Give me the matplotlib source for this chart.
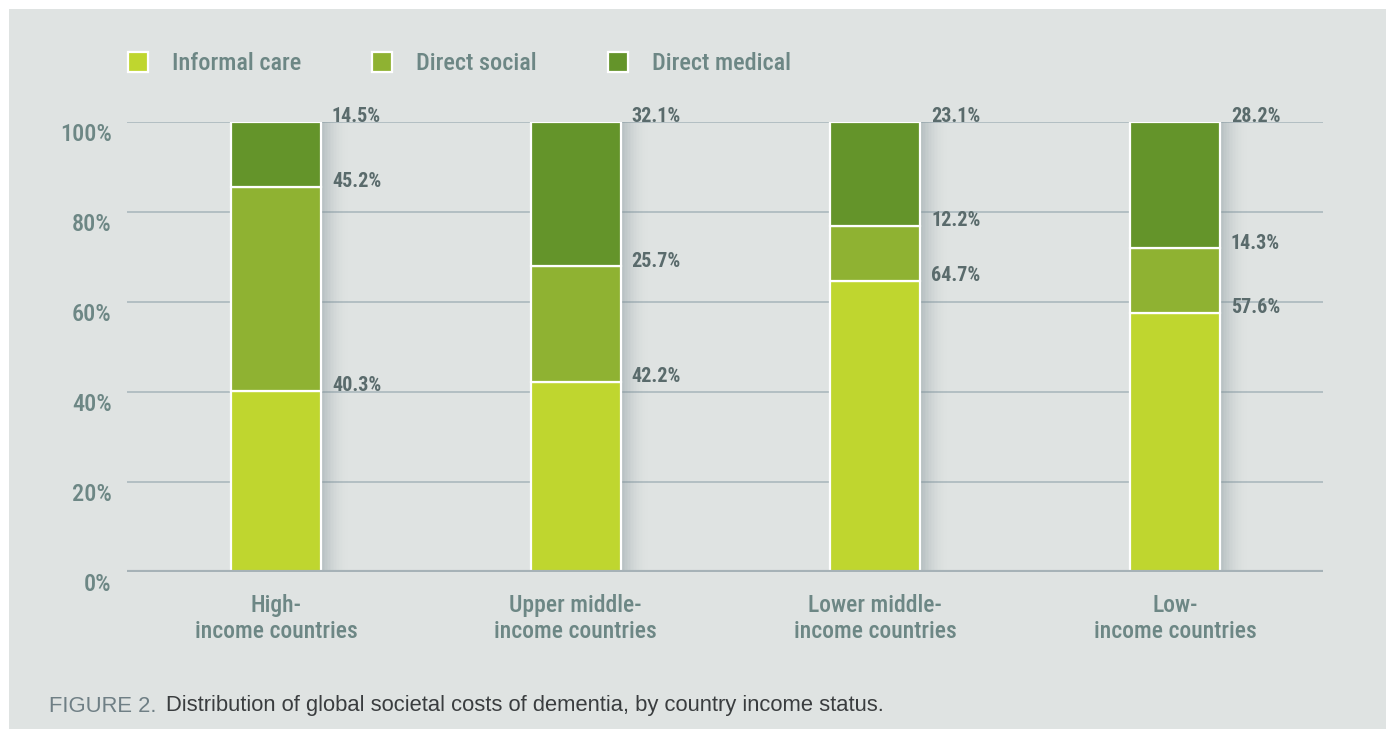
import matplotlib
matplotlib.use("Agg")
import matplotlib.pyplot as plt
from matplotlib import font_manager
from matplotlib.patches import Rectangle
import matplotlib.transforms as mtrans
import numpy as np

# ---- data ----
categories = ["High-\nincome countries", "Upper middle-\nincome countries",
              "Lower middle-\nincome countries", "Low-\nincome countries"]
series_names = ["Informal care", "Direct social", "Direct medical"]
informal_care = [40.3, 42.2, 64.7, 57.6]
direct_social = [45.2, 25.7, 12.2, 14.3]
direct_medical = [14.5, 32.1, 23.1, 28.2]
y_ticks = [0, 20, 40, 60, 80, 100]
y_tick_labels = ["0%", "20%", "40%", "60%", "80%", "100%"]
caption_head = "FIGURE 2."
caption_body = "Distribution of global societal costs of dementia, by country income status."

colors = ["#bfd62f", "#8fb232", "#64942a"]
bg = "#dfe3e2"
txt = "#6d8785"
val_txt = "#5a6b6c"


def pick(fams):
    for f in fams:
        try:
            font_manager.findfont(f, fallback_to_default=False)
            return f
        except Exception:
            pass
    return "DejaVu Sans"


narrow = pick(["Liberation Sans Narrow", "Roboto Condensed", "Liberation Sans"])
regular = pick(["Liberation Sans", "DejaVu Sans"])

W, H = 1390, 729
fig = plt.figure(figsize=(W / 100, H / 100), dpi=100)
fig.patch.set_facecolor("white")
fig.add_artist(Rectangle((9 / W, 0), (1386 - 9) / W, (H - 9) / H,
                         transform=fig.transFigure, facecolor=bg, edgecolor="none", zorder=0))

ax = fig.add_axes([127 / W, (H - 572) / H, (1323 - 127) / W, (572 - 122) / H])
ax.set_facecolor("none")
ax.set_xlim(-0.497, 3.494)
ax.set_ylim(0, 100)
for s in ax.spines.values():
    s.set_visible(False)

x = np.arange(len(categories))
bw = 0.30

# grid lines
for t in y_ticks[1:]:
    ax.axhline(t, color="#abb8bd", lw=1.2, zorder=1)
ax.axhline(0, color="#a6b2b7", lw=3, zorder=5)

# shadows
informal = np.array(informal_care)
social = np.array(direct_social)
medical = np.array(direct_medical)
totals = informal + social + medical
nsteps = 18
sw = 0.09
for k in range(nsteps):
    a = 0.40 * (1 - k / nsteps) ** 1.8
    ax.bar(x + bw / 2 + k * sw / nsteps, totals, width=sw / nsteps, align="edge",
           color="#78898f", alpha=a, linewidth=0, zorder=2)

# bars
bottoms = np.zeros(len(categories))
for vals, c in zip([informal, social, medical], colors):
    ax.bar(x, vals, bw, bottom=bottoms, color=c, edgecolor="white", linewidth=1.6, zorder=3)
    tops = bottoms + vals
    for xi, ti, v in zip(x, tops, vals):
        ax.text(xi + 0.187, min(ti, 100) + 1.2, f"{v:.1f}%", ha="left", va="center",
                fontsize=14.5, fontweight="bold", color=val_txt, family=narrow, zorder=6)
    bottoms = tops

# axes ticks
ax.set_yticks(y_ticks)
ax.set_yticklabels(y_tick_labels)
ax.set_xticks(x)
ax.set_xticklabels(categories, linespacing=1.18)
ax.tick_params(axis="both", length=0)
ax.tick_params(axis="y", pad=11)
ax.tick_params(axis="x", pad=16)
offset = mtrans.ScaledTranslation(0, -0.10, fig.dpi_scale_trans)
for lab in ax.get_yticklabels():
    lab.set_fontsize(17.5)
    lab.set_color(txt)
    lab.set_family(narrow)
    lab.set_fontweight("medium")
    lab.set_transform(lab.get_transform() + offset)
for lab in ax.get_xticklabels():
    lab.set_fontsize(17)
    lab.set_color(txt)
    lab.set_family(narrow)
    lab.set_fontweight("medium")

# legend
leg_x = [128, 372, 608]
for name, c, lx in zip(series_names, colors, leg_x):
    fig.add_artist(Rectangle((lx / W, (H - 72) / H), 20 / W, 20 / H, transform=fig.transFigure,
                             facecolor=c, edgecolor="white", linewidth=1.6, zorder=3))
    fig.text((lx + 44) / W, (H - 64) / H, name, ha="left", va="center", fontsize=17.5,
             color=txt, family=narrow, fontweight="medium")

# caption
fig.text(49 / W, (H - 706) / H, caption_head, ha="left", va="center", fontsize=15.8,
         color="#6f7f85", family=regular)
fig.text(166 / W, (H - 706) / H, caption_body, ha="left", va="center", fontsize=15.8,
         color="#3a3d3f", family=regular)

fig.savefig("out.png", dpi=100, facecolor=fig.get_facecolor())
